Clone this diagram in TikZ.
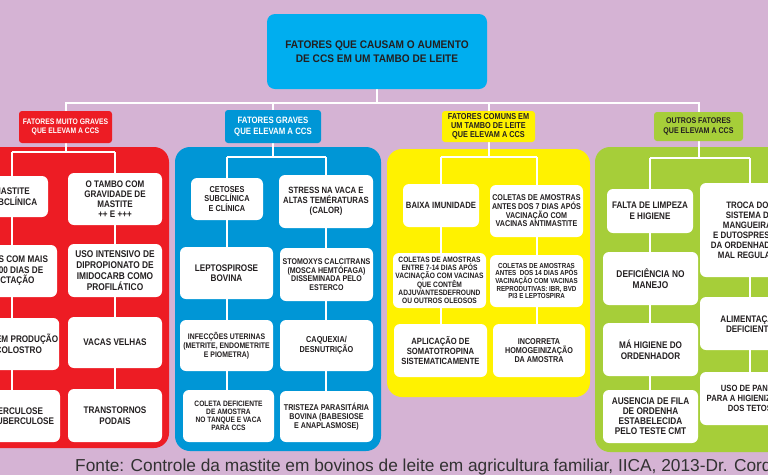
\documentclass[tikz,border=0pt]{standalone}
\usepackage{fontspec}
\setmainfont{Liberation Sans}
\newfontfamily\cond[FakeStretch=0.85]{Liberation Sans}
\newfontfamily\condt[FakeStretch=0.92]{Liberation Sans}
\definecolor{bg}{RGB}{213,179,212}
\definecolor{cred}{RGB}{237,28,36}
\definecolor{cblue}{RGB}{0,150,214}
\definecolor{ccyan}{RGB}{0,174,239}
\definecolor{cyel}{RGB}{255,242,0}
\definecolor{cgreen}{RGB}{166,206,57}
\definecolor{txt}{RGB}{35,31,32}
\definecolor{foot}{RGB}{50,50,50}
\pgfdeclarelayer{back}
\pgfdeclarelayer{mid}
\pgfsetlayers{back,mid,main}
\begin{document}
\begin{tikzpicture}[x=1pt,y=-1pt,
  fs/.style 2 args={font=\cond\bfseries\fontsize{#1}{#2}\selectfont},
  box/.style={fill=white, rounded corners=6pt, align=center, inner sep=1pt, text=txt},
  hdr/.style={rounded corners=3pt, align=center, inner sep=1pt},
  panel/.style={rounded corners=15pt},
  wl/.style={white, line width=2pt}]
\useasboundingbox (0,0) rectangle (768,475);
\clip (0,0) rectangle (768,475);

% title
\node[fill=ccyan, rounded corners=8pt, align=center, text=txt, minimum width=220pt, minimum height=75pt,
  font=\condt\bfseries\fontsize{11}{13.5}\selectfont] (top) at (377,51.5)
  {FATORES QUE CAUSAM O AUMENTO\\DE CCS EM UM TAMBO DE LEITE};

% headers
\node[hdr, fill=cred, text=white, minimum width=93pt, minimum height=32pt, fs={8}{9}] (hr) at (65.5,127)
  {FATORES MUITO GRAVES\\QUE ELEVAM A CCS};
\node[hdr, fill=cblue, text=white, minimum width=96pt, minimum height=33pt, fs={9.2}{10.5}] (hb) at (273,126.5)
  {FATORES GRAVES\\QUE ELEVAM A CCS};
\node[hdr, fill=cyel, text=txt, minimum width=93pt, minimum height=31pt, fs={8.6}{8.7}] (hy) at (488.5,126.5)
  {FATORES COMUNS EM\\UM TAMBO DE LEITE\\QUE ELEVAM A CCS};
\node[hdr, fill=cgreen, text=txt, minimum width=89pt, minimum height=29pt, fs={8.3}{10}] (hg) at (698.5,126.5)
  {OUTROS FATORES\\QUE ELEVAM A CCS};

% red boxes
\node[box, minimum width=72pt, minimum height=41pt, fs={9.6}{10.5}] (rl1) at (12,196.5) {MASTITE\\SUBCLÍNICA};
\node[box, minimum width=90pt, minimum height=52pt, fs={9.6}{10.5}] (rl2) at (12,271) {VACAS COM MAIS\\DE 300 DIAS DE\\LACTAÇÃO};
\node[box, minimum width=90pt, minimum height=52pt, fs={9.6}{10.5}] (rl3) at (12,344) {VACAS EM PRODUÇÃO\\DE COLOSTRO};
\node[box, minimum width=96pt, minimum height=52pt, fs={9.6}{10.5}] (rl4) at (12,416) {TUBERCULOSE\\PARATUBERCULOSE};
\node[box, minimum width=94pt, minimum height=52pt, fs={9.5}{10}] (rr1) at (115,199) {O TAMBO COM\\GRAVIDADE DE\\MASTITE\\++ E +++};
\node[box, minimum width=94pt, minimum height=53pt, fs={9.8}{10.8}] (rr2) at (115,270.5) {USO INTENSIVO DE\\DIPROPIONATO DE\\IMIDOCARB COMO\\PROFILÁTICO};
\node[box, minimum width=94pt, minimum height=51pt, fs={9.6}{10.5}] (rr3) at (115,342.5) {VACAS VELHAS};
\node[box, minimum width=94pt, minimum height=53pt, fs={9.6}{10.5}] (rr4) at (115,415.5) {TRANSTORNOS\\PODAIS};

% blue boxes
\node[box, minimum width=72pt, minimum height=42pt, fs={8.6}{9.7}] (bl1) at (227,199) {CETOSES\\SUBCLÍNICA\\E CLÍNICA};
\node[box, minimum width=93pt, minimum height=52pt, fs={9.6}{9.5}] (bl2) at (226.5,273) {LEPTOSPIROSE\\BOVINA};
\node[box, minimum width=93pt, minimum height=51pt, fs={8.1}{8.8}] (bl3) at (226.5,345.5) {INFECÇÕES UTERINAS\\(METRITE, ENDOMETRITE\\E PIOMETRA)};
\node[box, minimum width=91pt, minimum height=52pt, fs={7.8}{7.9}] (bl4) at (228.5,416) {COLETA DEFICIENTE\\DE AMOSTRA\\NO TANQUE E VACA\\PARA CCS};
\node[box, minimum width=94pt, minimum height=53pt, fs={9.1}{10}] (br1) at (326,201.5) {STRESS NA VACA E\\ALTAS TEMÉRATURAS\\(CALOR)};
\node[box, minimum width=93pt, minimum height=53pt, fs={8.3}{8.5}] (br2) at (326.5,274.5) {STOMOXYS CALCITRANS\\(MOSCA HEMTÓFAGA)\\DISSEMINADA PELO\\ESTERCO};
\node[box, minimum width=93pt, minimum height=51pt, fs={8.6}{10}] (br3) at (326.5,345.5) {CAQUEXIA/\\DESNUTRIÇÃO};
\node[box, minimum width=93pt, minimum height=51pt, fs={8.4}{9}] (br4) at (326.5,416.5) {TRISTEZA PARASITÁRIA\\BOVINA (BABESIOSE\\E ANAPLASMOSE)};

% yellow boxes
\node[box, minimum width=76pt, minimum height=43pt, fs={9.1}{10}] (yl1) at (441,205.5) {BAIXA IMUNIDADE};
\node[box, minimum width=93pt, minimum height=52pt, fs={8.4}{8.7}] (yr1) at (536.5,211) {COLETAS DE AMOSTRAS\\ANTES DOS 7 DIAS APÓS\\VACINAÇÃO COM\\VACINAS ANTIMASTITE};
\node[box, minimum width=93pt, minimum height=55pt, fs={7.8}{8}] (yl2) at (439.5,280.5) {COLETAS DE AMOSTRAS\\ENTRE 7-14 DIAS APÓS\\VACINAÇÃO COM VACINAS\\QUE CONTÊM\\ADJUVANTESDEFROUND\\OU OUTROS OLEOSOS};
\node[box, minimum width=93pt, minimum height=52pt, fs={7.3}{7.7}] (yr2) at (536.5,281) {COLETAS DE AMOSTRAS\\ANTES\ \ DOS 14 DIAS APÓS\\VACINAÇÃO COM VACINAS\\REPRODUTIVAS: IBR, BVD\\PI3 E LEPTOSPIRA};
\node[box, minimum width=93pt, minimum height=53pt, fs={9}{10}] (yl3) at (440.5,350.5) {APLICAÇÃO DE\\SOMATOTROPINA\\SISTEMATICAMENTE};
\node[box, minimum width=92pt, minimum height=53pt, fs={8.5}{8.8}] (yr3) at (539,350.5) {INCORRETA\\HOMOGEINIZAÇÃO\\DA AMOSTRA};

% green boxes
\node[box, minimum width=86pt, minimum height=44pt, fs={9.5}{10.7}] (gl1) at (650,211) {FALTA DE LIMPEZA\\E HIGIENE};
\node[box, minimum width=95pt, minimum height=53pt, fs={9.8}{10.3}] (gl2) at (650.5,278.5) {DEFICIÊNCIA NO\\MANEJO};
\node[box, minimum width=95pt, minimum height=53pt, fs={9.6}{11}] (gl3) at (650.5,349.5) {MÁ HIGIENE DO\\ORDENHADOR};
\node[box, minimum width=95pt, minimum height=53pt, fs={9.7}{10}] (gl4) at (650.5,416.5) {AUSENCIA DE FILA\\DE ORDENHA\\ESTABELECIDA\\PELO TESTE CMT};
\node[box, minimum width=100pt, minimum height=94pt, fs={9.3}{10}] (gr1) at (750,230) {TROCA DOS\\SISTEMA DE\\MANGUEIRAS\\E DUTOSPRESSÃO\\DA ORDENHADEIRA\\MAL REGULADA};
\node[box, minimum width=100pt, minimum height=53pt, fs={9.5}{10.5}] (gr2) at (750,323.5) {ALIMENTAÇÃO\\DEFICIENTE};
\node[box, minimum width=100pt, minimum height=53pt, fs={9}{9.7}] (gr3) at (750,398.5) {USO DE PANOS\\PARA A HIGIENIZAÇÃO\\DOS TETOS};

% footer
\node[anchor=base west, inner sep=0, text=foot, font=\fontsize{17.3}{20}\selectfont] (src) at (75,471)
  {Fonte: Controle da mastite em bovinos de leite em agricultura familiar, IICA, 2013-Dr. Cord};

\coordinate (tbar) at (0,103);
\coordinate (rbar) at (0,152);
\coordinate (bbar) at (0,157);
\coordinate (ybar) at (0,157);
\coordinate (gbar) at (0,158);

\begin{pgfonlayer}{back}
  \clip (0,0) rectangle (768,475);
  \fill[bg] (0,0) rectangle (768,475);
  \fill[cred, panel] (-60,147) rectangle (169,448);
  \fill[cblue, panel] (175,147) rectangle (381,451);
  \fill[cyel, panel] (387,149) rectangle (590,397);
  \fill[cgreen, panel] (595,147) rectangle (830,452);
\end{pgfonlayer}

\begin{pgfonlayer}{mid}
  \clip (0,0) rectangle (768,475);
  % main tree
  \draw[wl] (top.south) -- (top.south |- tbar);
  \draw[wl] (hr.north) -- (hr.north |- tbar) -- (hg.north |- tbar) -- (hg.north);
  \draw[wl] (hb.north) -- (hb.north |- tbar);
  \draw[wl] (hy.north) -- (hy.north |- tbar);
  % red
  \draw[wl] (hr.south) -- (hr.south |- rbar);
  \draw[wl] (rl1.north |- rbar) -- (rr1.north |- rbar);
  \draw[wl] (rl1.north |- rbar) -- (rl1.north |- rl4.center);
  \draw[wl] (rr1.north |- rbar) -- (rr1.north |- rr4.center);
  % blue
  \draw[wl] (hb.south) -- (hb.south |- bbar);
  \draw[wl] (bl1.north |- bbar) -- (br1.north |- bbar);
  \draw[wl] (bl1.north |- bbar) -- (bl1.north |- bl4.center);
  \draw[wl] (br1.north |- bbar) -- (br1.north |- br4.center);
  % yellow
  \draw[wl] (hy.south) -- (hy.south |- ybar);
  \draw[wl] (yl1.north |- ybar) -- (yr1.north |- ybar);
  \draw[wl] (yl1.north |- ybar) -- (yl1.north |- yl3.center);
  \draw[wl] (yr1.north |- ybar) -- (yr1.north |- yr3.center);
  % green
  \draw[wl] (hg.south) -- (hg.south |- gbar);
  \draw[wl] (gl1.north |- gbar) -- (gr1.north |- gbar);
  \draw[wl] (gl1.north |- gbar) -- (gl1.north |- gl4.center);
  \draw[wl] (gr1.north |- gbar) -- (gr1.north |- gr3.center);
\end{pgfonlayer}
\end{tikzpicture}
\end{document}
